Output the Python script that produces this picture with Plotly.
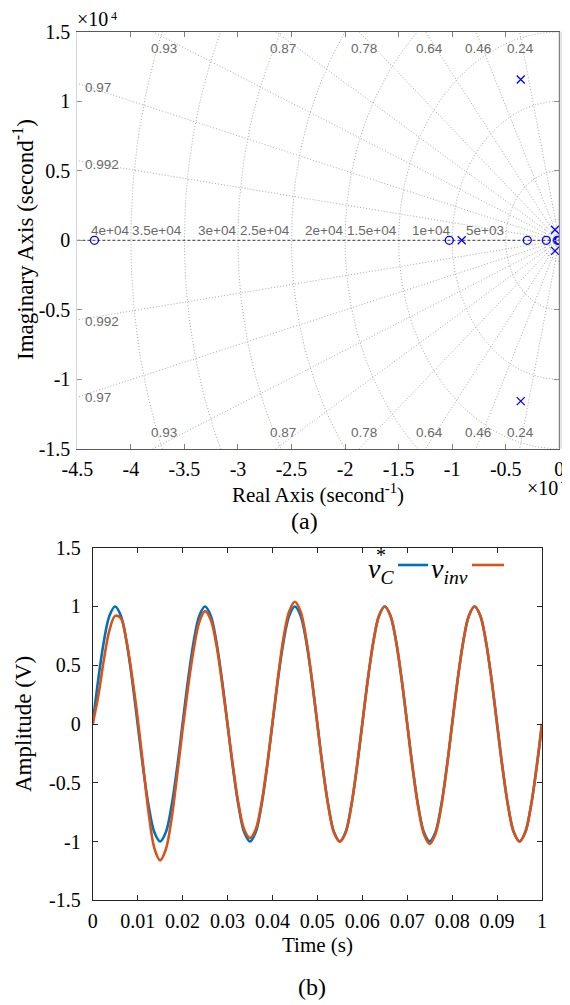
import math
import plotly.graph_objects as go

# ---------------- data: (a) pole-zero map ----------------
zero_re = [-43400, -10270, -2990, -1220, -150, -60, 0]
zero_im = [0, 0, 0, 0, 0, 0, 0]
pole_re = [-9110, -3600, -3600, -400, -400]
pole_im = [0, 11570, -11570, 760, -760]

damping = [0.24, 0.46, 0.64, 0.78, 0.87, 0.93, 0.97, 0.992]
damping_labels = ["0.24", "0.46", "0.64", "0.78", "0.87", "0.93", "0.97", "0.992"]
freqs = [5000, 10000, 15000, 20000, 25000, 30000, 35000, 40000]
freq_labels = ["5e+03", "1e+04", "1.5e+04", "2e+04", "2.5e+04", "3e+04", "3.5e+04", "4e+04"]
small_freqs = [500, 1000, 1500]

re_ticks = [-45000, -40000, -35000, -30000, -25000, -20000, -15000, -10000, -5000, 0]
re_ticktext = ["-4.5", "-4", "-3.5", "-3", "-2.5", "-2", "-1.5", "-1", "-0.5", "0"]
im_ticks = [-15000, -10000, -5000, 0, 5000, 10000, 15000]
im_ticktext = ["-1.5", "-1", "-0.5", "0", "0.5", "1", "1.5"]

# ---------------- data: (b) time response ----------------
t = [0.0, 0.00125, 0.0025, 0.00375, 0.005, 0.00625, 0.0075, 0.00875,
     0.01, 0.01125, 0.0125, 0.01375, 0.015, 0.01625, 0.0175, 0.01875,
     0.02, 0.02125, 0.0225, 0.02375, 0.025, 0.02625, 0.0275, 0.02875,
     0.03, 0.03125, 0.0325, 0.03375, 0.035, 0.03625, 0.0375, 0.03875,
     0.04, 0.04125, 0.0425, 0.04375, 0.045, 0.04625, 0.0475, 0.04875,
     0.05, 0.05125, 0.0525, 0.05375, 0.055, 0.05625, 0.0575, 0.05875,
     0.06, 0.06125, 0.0625, 0.06375, 0.065, 0.06625, 0.0675, 0.06875,
     0.07, 0.07125, 0.0725, 0.07375, 0.075, 0.07625, 0.0775, 0.07875,
     0.08, 0.08125, 0.0825, 0.08375, 0.085, 0.08625, 0.0875, 0.08875,
     0.09, 0.09125, 0.0925, 0.09375, 0.095, 0.09625, 0.0975, 0.09875, 0.1]
v_ref = [0.0, 0.383, 0.707, 0.924, 1.0, 0.924, 0.707, 0.383,
         0.0, -0.383, -0.707, -0.924, -1.0, -0.924, -0.707, -0.383,
         0.0, 0.383, 0.707, 0.924, 1.0, 0.924, 0.707, 0.383,
         0.0, -0.383, -0.707, -0.924, -1.0, -0.924, -0.707, -0.383,
         0.0, 0.383, 0.707, 0.924, 1.0, 0.924, 0.707, 0.383,
         0.0, -0.383, -0.707, -0.924, -1.0, -0.924, -0.707, -0.383,
         0.0, 0.383, 0.707, 0.924, 1.0, 0.924, 0.707, 0.383,
         0.0, -0.383, -0.707, -0.924, -1.0, -0.924, -0.707, -0.383,
         0.0, 0.383, 0.707, 0.924, 1.0, 0.924, 0.707, 0.383,
         0.0, -0.383, -0.707, -0.924, -1.0, -0.924, -0.707, -0.383, 0.0]
v_inv = [0.0, 0.24, 0.55, 0.80, 0.92, 0.90, 0.71, 0.41,
         0.05, -0.36, -0.77, -1.06, -1.16, -1.07, -0.82, -0.45,
         -0.05, 0.32, 0.64, 0.87, 0.96, 0.89, 0.68, 0.36,
         0.0, -0.37, -0.69, -0.90, -0.97, -0.90, -0.69, -0.37,
         0.01, 0.40, 0.74, 0.96, 1.04, 0.96, 0.73, 0.39,
         0.0, -0.39, -0.71, -0.93, -1.0, -0.93, -0.71, -0.38,
         0.0, 0.383, 0.707, 0.924, 1.0, 0.924, 0.71, 0.383,
         0.0, -0.39, -0.72, -0.94, -1.02, -0.94, -0.72, -0.39,
         0.0, 0.383, 0.707, 0.924, 1.0, 0.924, 0.707, 0.383,
         0.0, -0.383, -0.707, -0.924, -1.0, -0.924, -0.707, -0.383, 0.0]
time_ticks = [0, 0.01, 0.02, 0.03, 0.04, 0.05, 0.06, 0.07, 0.08, 0.09, 0.1]
time_ticktext = ["0", "0.01", "0.02", "0.03", "0.04", "0.05", "0.06", "0.07", "0.08", "0.09", "1"]
amp_ticks = [-1.5, -1, -0.5, 0, 0.5, 1, 1.5]
amp_ticktext = ["-1.5", "-1", "-0.5", "0", "0.5", "1", "1.5"]

# ---------------- figure ----------------
# the page body has an 8px margin, so the figure is 8px smaller and
# every page-pixel position below is shifted by that offset
OFF = 8
W, H = 570 - OFF, 1005 - OFF
def px(x): return (x - OFF) / W
def py(y): return 1 - (y - OFF) / H

SERIF = "Liberation Serif"
SANS = "Liberation Sans"
GRID = "#a6a6a6"
PZ = "#0000ff"
BLUE = "#0072BD"
ORANGE = "#D95319"
DOT = "1px,2px"

fig = go.Figure()

# s-plane grid: damping rays
R = 80000
for z in damping:
    s_th = math.sqrt(1 - z * z)
    for sgn in (1, -1):
        fig.add_trace(go.Scatter(x=[0, -R * z], y=[0, sgn * R * s_th], mode="lines",
                                 line=dict(color=GRID, width=1, dash=DOT),
                                 hoverinfo="skip", showlegend=False, xaxis="x", yaxis="y"))
# s-plane grid: natural-frequency arcs
for w in freqs + small_freqs:
    angs = [math.pi / 2 + math.pi * k / 160 for k in range(161)]
    fig.add_trace(go.Scatter(x=[w * math.cos(a) for a in angs], y=[w * math.sin(a) for a in angs],
                             mode="lines", line=dict(color=GRID, width=1, dash=DOT),
                             hoverinfo="skip", showlegend=False, xaxis="x", yaxis="y"))
# real axis
fig.add_trace(go.Scatter(x=[-R, 0], y=[0, 0], mode="lines",
                         line=dict(color="#333333", width=1, dash="3px,2px"),
                         hoverinfo="skip", showlegend=False, xaxis="x", yaxis="y"))
# zeros and poles
fig.add_trace(go.Scatter(x=zero_re, y=zero_im, mode="markers", name="zeros",
                         marker=dict(symbol="circle-open", size=8, color=PZ, line=dict(width=1.3, color=PZ)),
                         showlegend=False, xaxis="x", yaxis="y"))
fig.add_trace(go.Scatter(x=pole_re, y=pole_im, mode="markers", name="poles",
                         marker=dict(symbol="x-thin-open", size=8, color=PZ, line=dict(width=1.3, color=PZ)),
                         showlegend=False, xaxis="x", yaxis="y"))

# (b) traces
fig.add_trace(go.Scatter(x=t, y=v_ref, mode="lines", line=dict(color=BLUE, width=2.6, shape="spline"),
                         name="v_C*", showlegend=False, xaxis="x2", yaxis="y2"))
fig.add_trace(go.Scatter(x=t, y=v_inv, mode="lines", line=dict(color=ORANGE, width=2.6, shape="spline"),
                         name="v_inv", showlegend=False, xaxis="x2", yaxis="y2"))

annotations = []
gl_font = dict(family=SANS, size=13.5, color="#6a6a6a")
# damping labels
for z, lab in zip(damping, damping_labels):
    cot = z / math.sqrt(1 - z * z)
    if 15000 * cot < 45000:
        for sgn in (1, -1):
            annotations.append(dict(x=-14600 * cot, y=sgn * 13800, xref="x", yref="y", text=lab,
                                    showarrow=False, xanchor="center", yanchor="middle", font=gl_font))
    else:
        for sgn in (1, -1):
            annotations.append(dict(x=-44450, y=sgn * 44450 / cot, xref="x", yref="y", text=lab,
                                    showarrow=False, xanchor="left", yanchor="middle", yshift=-2.5,
                                    font=gl_font))
# frequency labels
for w, lab in zip(freqs, freq_labels):
    annotations.append(dict(x=-w, y=0, xref="x", yref="y", text=lab, showarrow=False,
                            xanchor="right", yanchor="bottom", font=gl_font))

tf = dict(family=SERIF, size=20, color="black")
def txt(x, y, s, size, **kw):
    d = dict(x=px(x), y=py(y), xref="paper", yref="paper", text=s, showarrow=False,
             xanchor=kw.pop("xanchor", "center"), yanchor=kw.pop("yanchor", "middle"),
             font=dict(family=SERIF, size=size, color="black"))
    d.update(kw)
    return d

annotations += [
    # exponent marks
    txt(110, 19, "×10", 20, xanchor="right"),
    txt(110, 16, "4", 12, xanchor="left", borderpad=0),
    txt(560, 488, "×10", 20, xanchor="right"),
    txt(560, 481, "4", 12, xanchor="left", borderpad=0),
    # axis titles and captions
    txt(318, 493, "Real Axis (second<sup>-1</sup>)", 21),
    txt(24, 240, "Imaginary Axis (second<sup>-1</sup>)", 23, textangle=-90),
    txt(304, 521, "(a)", 24),
    txt(317, 945, "Time (s)", 21),
    txt(23, 724, "Amplitude (V)", 23, textangle=-90),
    txt(312, 987, "(b)", 24),
    # legend texts
    txt(396, 570, "<i>v<sub>C</sub></i>", 28, xanchor="right"),
    txt(381, 555, "*", 20),
    txt(470, 570, "<i>v<sub>inv</sub></i>", 28, xanchor="right"),
]

shapes = [
    dict(type="rect", xref="paper", yref="paper", x0=px(559.8), x1=px(563), y0=py(448.8), y1=py(31.8),
         line=dict(width=0), fillcolor="#e4e4e4", layer="below"),
    dict(type="line", xref="x domain", yref="y domain", x0=1, x1=1, y0=0, y1=1,
         line=dict(color="#707070", width=1)),
    dict(type="line", xref="paper", yref="paper", x0=px(398), x1=px(428), y0=py(565), y1=py(565),
         line=dict(color=BLUE, width=2.6)),
    dict(type="line", xref="paper", yref="paper", x0=px(472), x1=px(504), y0=py(565), y1=py(565),
         line=dict(color=ORANGE, width=2.6)),
]

common = dict(showgrid=False, zeroline=False, ticks="inside", ticklen=5, mirror="ticks",
              showline=True, linewidth=1, tickfont=tf, automargin=False)

fig.update_layout(
    width=W, height=H, margin=dict(l=0, r=0, t=0, b=0, pad=0, autoexpand=False),
    paper_bgcolor="white", plot_bgcolor="white", showlegend=False,
    xaxis=dict(domain=[px(77.3), px(559.3)], range=[-45000, 0], anchor="y",
               tickmode="array", tickvals=re_ticks, ticktext=re_ticktext,
               linecolor="#5a5a5a", tickcolor="#808080", ticklabelstandoff=2, **common),
    yaxis=dict(domain=[py(448.8), py(31.8)], range=[-15000, 15000], anchor="x",
               tickmode="array", tickvals=im_ticks, ticktext=im_ticktext,
               linecolor="#d6d6d6", tickcolor="#909090", ticklabelstandoff=2, **common),
    xaxis2=dict(domain=[px(92.7), px(542)], range=[0, 0.1], anchor="y2",
                tickmode="array", tickvals=time_ticks, ticktext=time_ticktext,
                linecolor="#262626", tickcolor="#262626", ticklabelstandoff=3, **common),
    yaxis2=dict(domain=[py(900.3), py(547.7)], range=[-1.5, 1.5], anchor="x2",
                tickmode="array", tickvals=amp_ticks, ticktext=amp_ticktext,
                linecolor="#262626", tickcolor="#262626", ticklabelstandoff=7, **common),
    annotations=annotations, shapes=shapes,
)

fig.write_html("out.html")
